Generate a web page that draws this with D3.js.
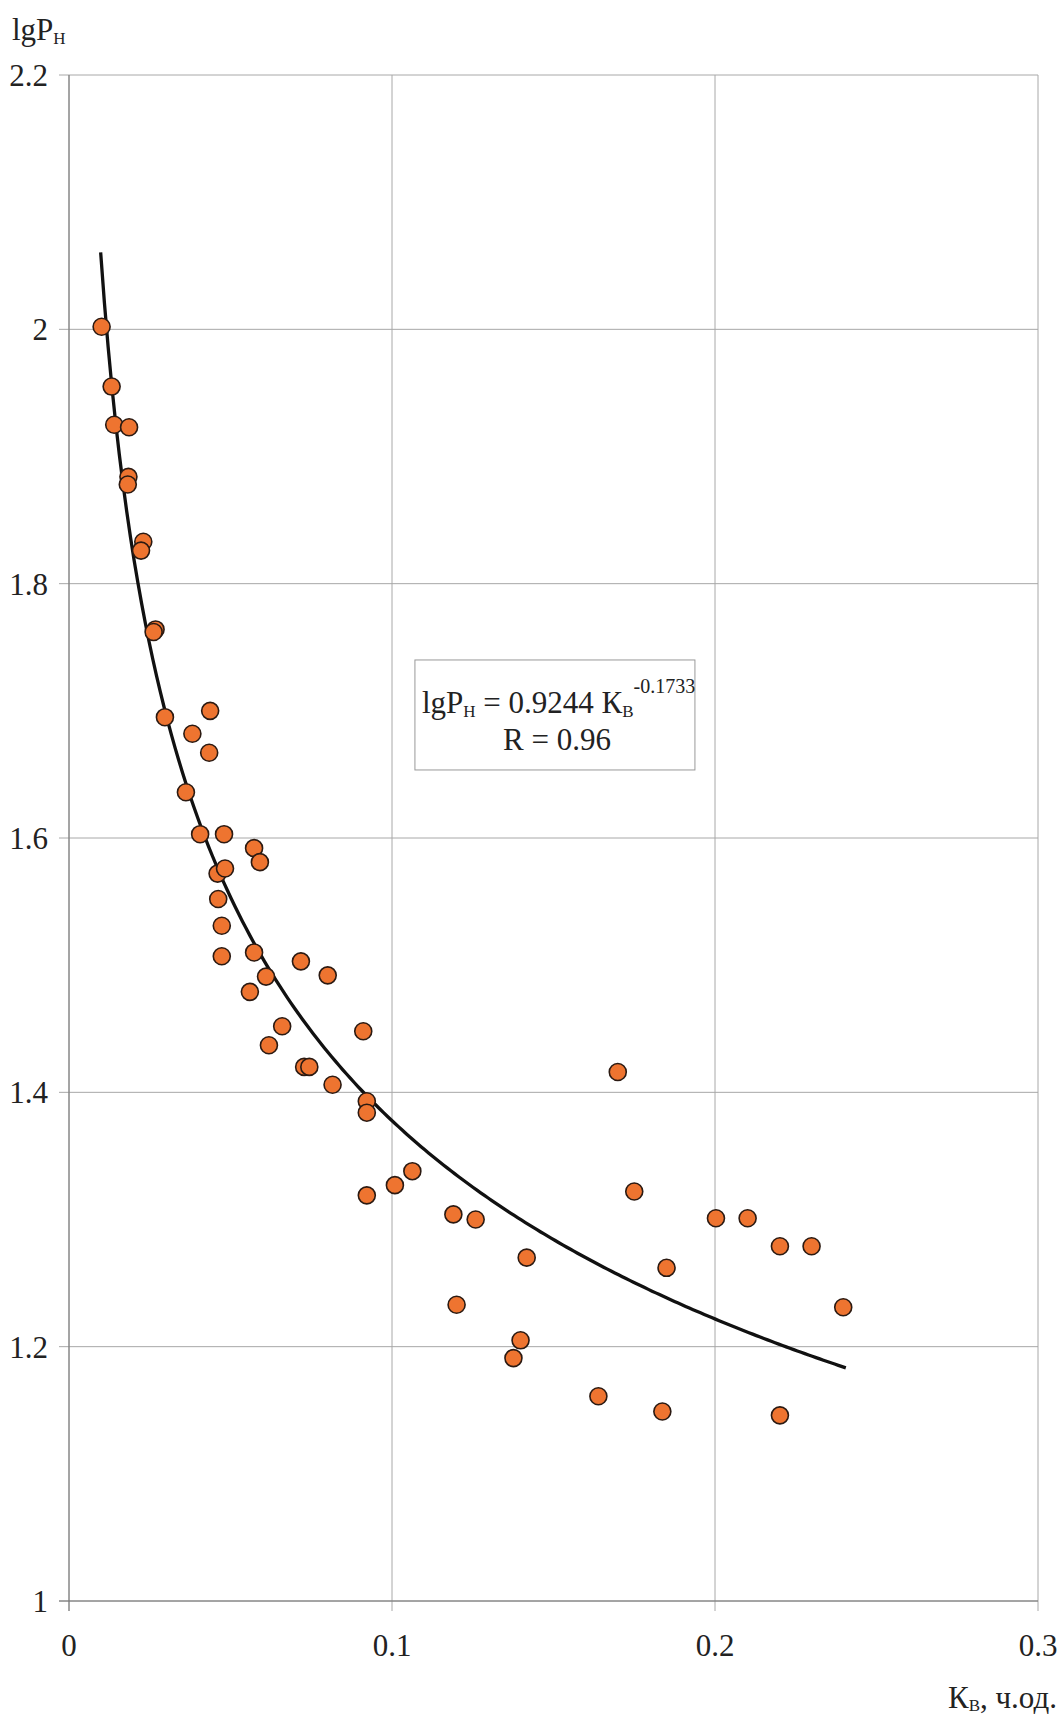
<!DOCTYPE html>
<html>
<head>
<meta charset="utf-8">
<script src="https://cdn.jsdelivr.net/npm/d3@7"></script>
<style>
    body { margin: 0; background: #fff; }
    svg text { font-family: "Liberation Serif", "DejaVu Serif", serif; fill: #222; }
</style>
</head>
<body>
<div id="chart"></div>
<script>

// measured points: water cut (Kв) and lgPн
let kvValues = [
    0.0101, 0.0132, 0.0140, 0.0186, 0.0184, 0.0182, 0.0230, 0.0223, 0.0268, 0.0262,
    0.0297, 0.0437, 0.0382, 0.0434, 0.0362, 0.0406, 0.0480, 0.0573, 0.0591, 0.0460,
    0.0483, 0.0462, 0.0473, 0.0473, 0.0573, 0.0718, 0.0801, 0.0610, 0.0560, 0.0660,
    0.0619, 0.0911, 0.0728, 0.0744, 0.0816, 0.0922, 0.0922, 0.1699, 0.1063, 0.1009,
    0.0922, 0.1750, 0.1190, 0.1259, 0.2003, 0.2101, 0.2201, 0.2299, 0.1417, 0.1850,
    0.2397, 0.1200, 0.1398, 0.1376, 0.1639, 0.1837, 0.2201
];
let lgPValues = [
    2.002, 1.955, 1.925, 1.923, 1.884, 1.878, 1.833, 1.826, 1.764, 1.762,
    1.695, 1.700, 1.682, 1.667, 1.636, 1.603, 1.603, 1.592, 1.581, 1.572,
    1.576, 1.552, 1.531, 1.507, 1.510, 1.503, 1.492, 1.491, 1.479, 1.452,
    1.437, 1.448, 1.420, 1.420, 1.406, 1.393, 1.384, 1.416, 1.338, 1.327,
    1.319, 1.322, 1.304, 1.300, 1.301, 1.301, 1.279, 1.279, 1.270, 1.262,
    1.231, 1.233, 1.205, 1.191, 1.161, 1.149, 1.146
];

// trend line as printed on the chart: lgPн = 0.9244 Кв^-0.1733
let trendCoef = 0.9244;
let trendPower = -0.1733;
let trendRange = [0.0098, 0.2405];
let trendR = "0.96";

// axis ticks
let xTicks = [0, 0.1, 0.2, 0.3];
let xTickLabels = ["0", "0.1", "0.2", "0.3"];
let yTicks = [1, 1.2, 1.4, 1.6, 1.8, 2, 2.2];
let yTickLabels = ["1", "1.2", "1.4", "1.6", "1.8", "2", "2.2"];

var margin = {top: 75, right: 22, bottom: 114, left: 69},
    width = 1060 - margin.left - margin.right,
    height = 1715 - margin.top - margin.bottom;

var svg = d3.select("#chart")
    .append("svg")
    .attr("width", 1060)
    .attr("height", 1715)
    .append("g")
    .attr("transform", "translate(" + margin.left + "," + margin.top + ")");

var x = d3.scaleLinear().domain([0, 0.3]).range([0, width]);
var y = d3.scaleLinear().domain([1, 2.2]).range([height, 0]);

// grid lines
svg.append("g")
    .selectAll("line")
    .data(xTicks)
    .enter()
    .append("line")
        .attr("x1", d => x(d)).attr("x2", d => x(d))
        .attr("y1", 0).attr("y2", height + 10)
        .attr("stroke", "#a8a8a8")
        .attr("stroke-width", 1);

svg.append("g")
    .selectAll("line")
    .data(yTicks)
    .enter()
    .append("line")
        .attr("x1", -10).attr("x2", width)
        .attr("y1", d => y(d)).attr("y2", d => y(d))
        .attr("stroke", "#a8a8a8")
        .attr("stroke-width", 1);

// axes (lines only, labels added below)
svg.append("line")
    .attr("x1", 0).attr("x2", 0).attr("y1", 0).attr("y2", height + 10)
    .attr("stroke", "#777");
svg.append("line")
    .attr("x1", -10).attr("x2", width).attr("y1", height).attr("y2", height)
    .attr("stroke", "#777");

// tick labels
svg.append("g")
    .selectAll("text")
    .data(yTicks)
    .enter()
    .append("text")
        .attr("x", -21)
        .attr("y", d => y(d))
        .attr("dy", "0.35em")
        .attr("text-anchor", "end")
        .style("font-size", "31px")
        .text((d, i) => yTickLabels[i]);

svg.append("g")
    .selectAll("text")
    .data(xTicks)
    .enter()
    .append("text")
        .attr("x", d => x(d))
        .attr("y", height + 55)
        .attr("text-anchor", "middle")
        .style("font-size", "31px")
        .text((d, i) => xTickLabels[i]);

// axis titles
let yTitle = svg.append("text")
    .attr("x", -57)
    .attr("y", -35)
    .style("font-size", "31px");
yTitle.append("tspan").text("lgP");
yTitle.append("tspan").attr("dy", 4).style("font-size", "17px").text("Н");

let xTitle = svg.append("text")
    .attr("x", width + 19)
    .attr("y", height + 107)
    .attr("text-anchor", "end")
    .style("font-size", "31px");
xTitle.append("tspan").text("К");
xTitle.append("tspan").attr("dy", 3).style("font-size", "17px").text("В");
xTitle.append("tspan").attr("dy", -3).text(", ч.од.");

// trend curve
let trendPts = d3.range(0, 201).map(i => {
    let k = trendRange[0] + (trendRange[1] - trendRange[0]) * i / 200;
    return [k, trendCoef * Math.pow(k, trendPower)];
});

svg.append("path")
    .datum(trendPts)
    .attr("fill", "none")
    .attr("stroke", "#111")
    .attr("stroke-width", 3.3)
    .attr("d", d3.line().x(d => x(d[0])).y(d => y(d[1])));

// scatter points
svg.append("g")
    .selectAll("circle")
    .data(kvValues)
    .enter()
    .append("circle")
        .attr("cx", d => x(d))
        .attr("cy", (d, i) => y(lgPValues[i]))
        .attr("r", 8.5)
        .attr("fill", "#ee7430")
        .attr("stroke", "#2b1a12")
        .attr("stroke-width", 1.6);

// equation box
let boxX = x(0.1071), boxY = y(1.74);
svg.append("rect")
    .attr("x", boxX)
    .attr("y", boxY)
    .attr("width", 280)
    .attr("height", 110)
    .attr("fill", "#fff")
    .attr("stroke", "#999")
    .attr("stroke-width", 1);

let eq = svg.append("text")
    .attr("x", boxX + 7)
    .attr("y", boxY + 53)
    .style("font-size", "31px");
eq.append("tspan").text("lgP");
eq.append("tspan").attr("dy", 4).style("font-size", "17px").text("Н");
eq.append("tspan").attr("dy", -4).text(" = " + trendCoef + " К");
eq.append("tspan").attr("dy", 4).style("font-size", "17px").text("В");
eq.append("tspan").attr("dy", -24).style("font-size", "20px").text(trendPower);

svg.append("text")
    .attr("x", boxX + 142)
    .attr("y", boxY + 90)
    .attr("text-anchor", "middle")
    .style("font-size", "31px")
    .text("R = " + trendR);

</script>
</body>
</html>
